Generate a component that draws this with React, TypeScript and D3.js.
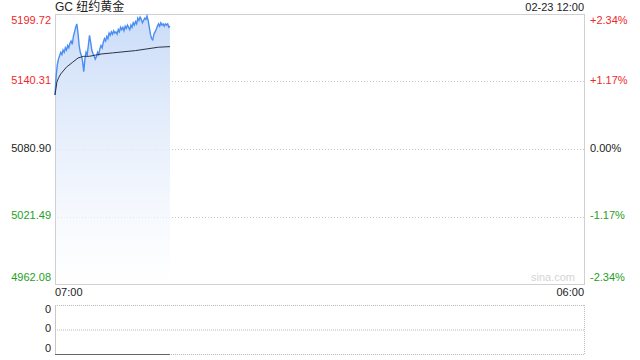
import React from 'react';
import * as d3 from 'd3';

// price samples, every 3 minutes from 07:00
const prices = [
  5128.4, 5145, 5155, 5160, 5163, 5166, 5164, 5168, 5166, 5170,
  5168, 5172, 5170, 5174, 5176, 5173, 5180, 5184, 5188, 5191,
  5183, 5172, 5166, 5163, 5158, 5149, 5160, 5166, 5164, 5172,
  5181, 5175, 5168, 5165, 5163, 5160, 5162, 5166, 5164, 5169,
  5172, 5170, 5175, 5178, 5176, 5180, 5178, 5183, 5181, 5184,
  5182, 5185, 5183, 5184, 5182, 5186, 5184, 5188, 5186, 5188,
  5185, 5189, 5187, 5190, 5188, 5186, 5190, 5188, 5192, 5190,
  5193, 5191, 5196, 5194, 5197, 5195, 5192, 5194, 5196, 5195,
  5198, 5194, 5188, 5182, 5178, 5177, 5182, 5184, 5186, 5189,
  5191, 5189, 5192, 5190, 5191, 5189, 5191, 5190, 5191, 5188,
  5189,
];
const step = 3;

const avgMinutes = [0, 5, 10, 15, 30, 45, 60, 75, 90, 105, 120, 150, 180, 210, 240, 270, 300];
const avgValues = [5128.4, 5140, 5144, 5147, 5153, 5157, 5161, 5162.5, 5162.5, 5163.5, 5164.5, 5165.5, 5166.5, 5167.5, 5169, 5170.5, 5171];

const prevClose = 5080.9;
const priceTicks = [5199.72, 5140.31, 5080.9, 5021.49, 4962.08];
const pctTicks = ['+2.34%', '+1.17%', '0.00%', '-1.17%', '-2.34%'];
const volTicks = ['0', '0', '0'];
const timeLabels = ['07:00', '06:00'];
const title = 'GC 纽约黄金';
const stamp = '02-23 12:00';

const W = 640;
const L = 55, R = 584, T = 14, B = 284;
const VT = 305, VB = 354;
const font = "'Liberation Sans', Arial, 'Noto Sans CJK SC', sans-serif";
const red = '#f0282a';
const green = '#1ea01e';

export default function App() {
  const x = d3.scaleLinear().domain([0, 1380]).range([L, R]);
  const y = d3.scaleLinear().domain([priceTicks[4], priceTicks[0]]).range([B, T]);
  const yv = d3.scaleLinear().domain([0, 2]).range([VB, VT]);

  const pts = prices.map((p, i) => [i * step, p] as [number, number]);
  const line = d3.line<[number, number]>().x(d => x(d[0])).y(d => y(d[1]));
  const area = d3.area<[number, number]>().x(d => x(d[0])).y0(B).y1(d => y(d[1]));
  const avg = avgMinutes.map((m, i) => [m, avgValues[i]] as [number, number]);

  const colorFor = (v: number) => (v > prevClose + 0.001 ? red : v < prevClose - 0.001 ? green : '#222');
  const labelY = (i: number, v: number) => (i === 0 ? y(v) + 7 : i === priceTicks.length - 1 ? y(v) - 6 : y(v));
  const lastMin = (prices.length - 1) * step;

  return (
    <svg width={W} height={360} style={{ position: 'absolute', left: 0, top: 0 }} fontFamily={font}>
      <defs>
        <linearGradient id="fillGrad" x1="0" y1="0" x2="0" y2="1">
          <stop offset="0%" stopColor="#cadcf8" />
          <stop offset="100%" stopColor="#ffffff" stopOpacity={0.6} />
        </linearGradient>
      </defs>
      <rect width={W} height={360} fill="#fff" />
      <text x={L} y={8} fontSize={12} fill="#222" dominantBaseline="middle">{title}</text>
      <text x={R} y={8} fontSize={11} fill="#222" textAnchor="end" dominantBaseline="middle">{stamp}</text>

      {/* grid */}
      {priceTicks.slice(1, 4).map((v, i) => (
        <line key={i} x1={L} x2={R} y1={Math.round(y(v)) + 0.5} y2={Math.round(y(v)) + 0.5} stroke="#c8c8c8" strokeDasharray="1,2" />
      ))}
      <path d={area(pts) || ''} fill="url(#fillGrad)" />
      <rect x={L + 0.5} y={T + 0.5} width={R - L} height={B - T} fill="none" stroke="#d0d0d0" />
      <path d={line(pts) || ''} fill="none" stroke="#4b8df2" strokeWidth={1.4} />
      <path d={line(avg) || ''} fill="none" stroke="#2a3344" strokeWidth={1} />

      <text x={R - 9} y={B - 6} fontSize={11} fill="#d4d4d4" textAnchor="end" dominantBaseline="middle">sina.com</text>

      {priceTicks.map((v, i) => (
        <g key={i}>
          <text x={51} y={labelY(i, v)} fontSize={11} fill={colorFor(v)} textAnchor="end" dominantBaseline="middle">{v.toFixed(2)}</text>
          <text x={590} y={labelY(i, v)} fontSize={11} fill={colorFor(v)} dominantBaseline="middle">{pctTicks[i]}</text>
        </g>
      ))}

      <text x={L} y={293} fontSize={11} fill="#222" dominantBaseline="middle">{timeLabels[0]}</text>
      <text x={R} y={293} fontSize={11} fill="#222" textAnchor="end" dominantBaseline="middle">{timeLabels[1]}</text>

      {/* volume panel */}
      <line x1={L} x2={R} y1={VT + 0.5} y2={VT + 0.5} stroke="#bbb" strokeDasharray="1,1" />
      <line x1={L} x2={R} y1={yv(1) + 0.5} y2={yv(1) + 0.5} stroke="#bbb" strokeDasharray="1,1" />
      <line x1={L} x2={R} y1={VB + 0.5} y2={VB + 0.5} stroke="#bbb" strokeDasharray="1,1" />
      <line x1={R + 0.5} x2={R + 0.5} y1={VT} y2={VB} stroke="#bbb" strokeDasharray="1,1" />
      <line x1={L + 0.5} x2={L + 0.5} y1={VT} y2={VB} stroke="#c8c8c8" />
      <line x1={x(0)} x2={x(lastMin)} y1={yv(0) + 0.5} y2={yv(0) + 0.5} stroke="#666" />
      {volTicks.map((t, i) => (
        <text key={i} x={51} y={[VT + 5, yv(1), VB - 5][i]} fontSize={11} fill="#222" textAnchor="end" dominantBaseline="middle">{t}</text>
      ))}
    </svg>
  );
}
